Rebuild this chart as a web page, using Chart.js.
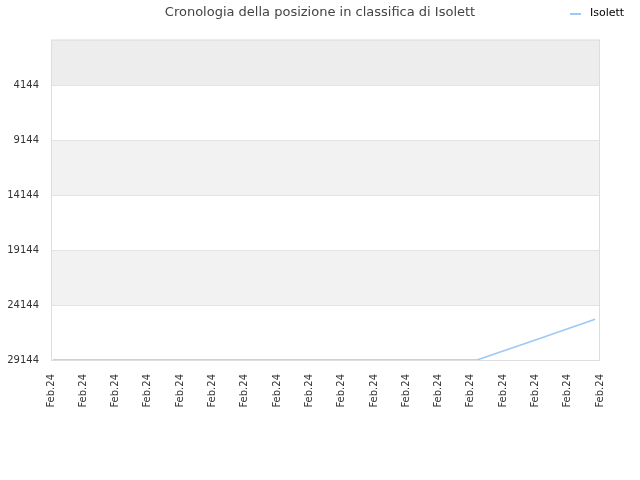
<!DOCTYPE html>
<html>
<head>
<meta charset="utf-8">
<script src="https://cdn.jsdelivr.net/npm/chart.js@4.4.1/dist/chart.umd.min.js"></script>
<style>
  html, body { margin: 0; padding: 0; background: #ffffff; }
  #wrap { width: 640px; height: 480px; position: relative; }
</style>
</head>
<body>
<div id="wrap"><canvas id="c" width="640" height="480"></canvas></div>
<script>
// ---- data ----
const chartTitle = 'Cronologia della posizione in classifica di Isolett';
const seriesName = 'Isolett';
const xLabels = ['Feb.24','Feb.24','Feb.24','Feb.24','Feb.24','Feb.24','Feb.24','Feb.24','Feb.24',
                 'Feb.24','Feb.24','Feb.24','Feb.24','Feb.24','Feb.24','Feb.24','Feb.24','Feb.24'];
const pointPositions = [0.06, 13.19, 14, 15, 16, 16.85];
const rankValues = [29144, 29144, 28333, 27322, 26311, 25440];
const yTickValues = [4144, 9144, 14144, 19144, 24144, 29144];
const yMin = 1;
const yMax = 29144;

const points = pointPositions.map((x, i) => ({ x: x, y: rankValues[i] }));

const bandsPlugin = {
  id: 'bands',
  beforeDraw(chart) {
    const { ctx, chartArea: a, scales: { y } } = chart;
    ctx.save();
    const edges = [yMin].concat(yTickValues.slice()).sort((p, q) => p - q);
    const pix = edges.map(v => y.getPixelForValue(v));
    for (let i = 0; i < pix.length - 1; i++) {
      const fromBottom = pix.length - 2 - i;
      if (fromBottom % 2 === 1) {
        ctx.fillStyle = (i === 0) ? '#ededed' : '#f2f2f2';
        const top = Math.min(pix[i], pix[i + 1]);
        const h = Math.abs(pix[i + 1] - pix[i]);
        ctx.fillRect(a.left, top, a.right - a.left, h);
      }
    }
    ctx.restore();
  },
  afterDatasetsDraw(chart) {
    const { ctx, chartArea: a } = chart;
    ctx.save();
    ctx.strokeStyle = '#dddddd';
    ctx.lineWidth = 1;
    ctx.strokeRect(a.left + 0.5, a.top + 0.5, a.right - a.left - 1, a.bottom - a.top);
    ctx.restore();
  },
  afterDraw(chart) {
    const { ctx } = chart;
    ctx.save();
    ctx.strokeStyle = '#9cc9f5';
    ctx.lineWidth = 2;
    ctx.beginPath();
    ctx.moveTo(570, 14);
    ctx.lineTo(581, 14);
    ctx.stroke();
    ctx.fillStyle = '#000000';
    ctx.font = '11px "DejaVu Sans"';
    ctx.textBaseline = 'middle';
    ctx.textAlign = 'left';
    ctx.fillText(seriesName, 590, 13);
    ctx.restore();
  }
};

new Chart(document.getElementById('c'), {
  type: 'line',
  data: {
    datasets: [{
      label: seriesName,
      data: points,
      borderColor: '#9cc9f5',
      backgroundColor: '#9cc9f5',
      borderWidth: 1.6,
      pointRadius: 0,
      tension: 0,
      fill: false,
      yAxisID: 'y',
      xAxisID: 'x'
    }]
  },
  options: {
    responsive: false,
    animation: false,
    layout: { padding: 0 },
    plugins: {
      legend: { display: false },
      tooltip: { enabled: false },
      title: {
        display: true,
        text: chartTitle,
        color: '#444444',
        font: { family: 'DejaVu Sans', size: 13, weight: 'normal' },
        padding: { top: 5, bottom: 19 }
      }
    },
    scales: {
      x: {
        type: 'linear',
        min: 0,
        max: xLabels.length - 1,
        afterBuildTicks(scale) {
          scale.ticks = xLabels.map((_, i) => ({ value: i }));
        },
        afterFit(scale) { scale.height = 120; },
        grid: { display: false, drawTicks: false },
        border: { display: false },
        ticks: {
          autoSkip: false,
          minRotation: 90,
          maxRotation: 90,
          padding: 14,
          color: '#333333',
          font: { family: 'DejaVu Sans', size: 10 },
          callback: (v, i) => xLabels[i]
        }
      },
      y: {
        type: 'linear',
        position: 'left',
        reverse: true,
        min: yMin,
        max: yMax,
        afterBuildTicks(scale) {
          scale.ticks = yTickValues.map(v => ({ value: v }));
        },
        afterFit(scale) { scale.width = 51; },
        grid: { color: '#e3e3e3', drawTicks: false },
        border: { display: false },
        ticks: {
          padding: 12,
          color: '#333333',
          font: { family: 'DejaVu Sans', size: 10 },
          callback: (v) => String(v)
        }
      },
      spacer: {
        type: 'linear',
        position: 'right',
        display: true,
        min: 0,
        max: 1,
        afterFit(scale) { scale.width = 40; },
        grid: { display: false, drawTicks: false },
        border: { display: false },
        ticks: { display: false }
      }
    }
  },
  plugins: [bandsPlugin]
});
</script>
</body>
</html>
